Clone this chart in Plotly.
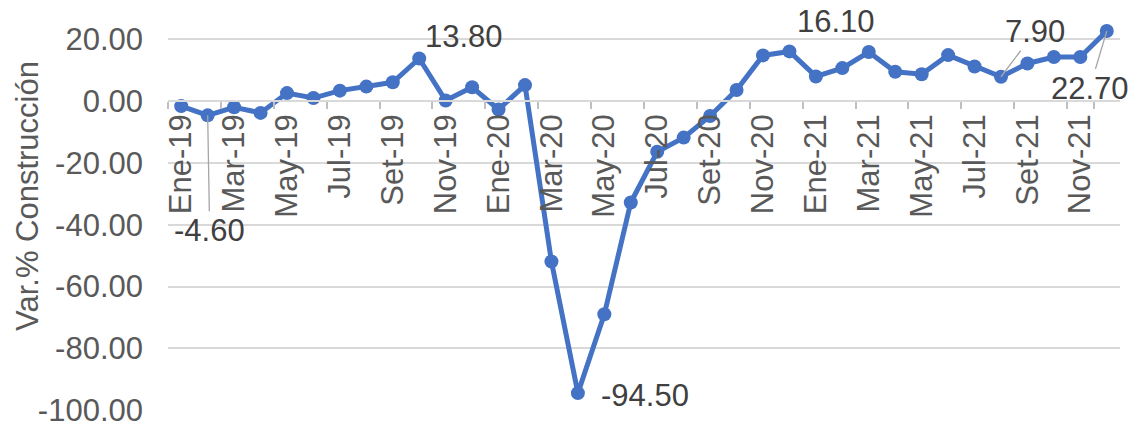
import plotly.graph_objects as go

months = ["Ene-19", "Feb-19", "Mar-19", "Abr-19", "May-19", "Jun-19", "Jul-19", "Ago-19",
          "Set-19", "Oct-19", "Nov-19", "Dic-19",
          "Ene-20", "Feb-20", "Mar-20", "Abr-20", "May-20", "Jun-20", "Jul-20", "Ago-20",
          "Set-20", "Oct-20", "Nov-20", "Dic-20",
          "Ene-21", "Feb-21", "Mar-21", "Abr-21", "May-21", "Jun-21", "Jul-21", "Ago-21",
          "Set-21", "Oct-21", "Nov-21", "Dic-21"]
var_construccion = [-1.6, -4.6, -2.0, -3.8, 2.6, 1.0, 3.4, 4.7, 6.1, 13.8, 0.2, 4.5,
                    -2.7, 5.2, -51.9, -94.5, -69.0, -32.8, -16.4, -11.8, -4.8, 3.6, 14.8, 16.1,
                    8.0, 10.7, 15.9, 9.5, 8.7, 14.9, 11.2, 7.9, 12.2, 14.3, 14.3, 22.7]
y_ticks = [-100, -80, -60, -40, -20, 0, 20]
y_tick_text = [f"{v:.2f}" for v in y_ticks]
x_tick_labels = months[::2]

# labelled points: month, pixel offset (dx, dy), leader line?
label_points = [
    ("Feb-19", 2, 115, True),
    ("Oct-19", 45, 22, False),
    ("Abr-20", 67, -2, False),
    ("Dic-20", 47, 30, False),
    ("Ago-21", 34, -45, True),
    ("Dic-21", -17, 57, True),
]

FONT = "Arial, Liberation Sans, sans-serif"
TICK_COL = "#595959"
GRID = "#d9d9d9"
ymin, ymax = -100.3, 24

fig = go.Figure()
fig.add_trace(go.Scatter(
    x=months, y=var_construccion, mode="lines+markers",
    line=dict(color="#4472C4", width=5),
    marker=dict(color="#4472C4", size=14),
    cliponaxis=False, showlegend=False,
))

for m, dx, dy, leader in label_points:
    v = var_construccion[months.index(m)]
    txt = f"{v:.2f}"
    if leader:
        fig.add_annotation(x=m, y=v, text=txt, showarrow=True, arrowhead=0,
                           arrowwidth=1.3, arrowcolor="#a6a6a6", ax=dx, ay=dy,
                           standoff=0, font=dict(family=FONT, size=31, color="#404040"))
    else:
        fig.add_annotation(x=m, y=v, text=txt, showarrow=False, xshift=dx, yshift=dy,
                           font=dict(family=FONT, size=31, color="#404040"))

fig.add_annotation(xref="paper", yref="paper", x=(28 - 168) / 952, y=0.56,
                   xanchor="center", yanchor="middle",
                   text="Var.% Construcción", textangle=-90, showarrow=False,
                   font=dict(family=FONT, size=31, color=TICK_COL))

fig.update_layout(
    width=1134, height=427,
    margin=dict(l=168, r=14, t=27, b=16, autoexpand=False),
    paper_bgcolor="white", plot_bgcolor="white",
    font=dict(family=FONT, size=31, color=TICK_COL),
    xaxis=dict(
        type="category", categoryorder="array", categoryarray=months,
        range=[-0.5, len(months) - 0.5], automargin=False,
        anchor="free", position=(0 - ymin) / (ymax - ymin),
        tickmode="array", tickvals=x_tick_labels, ticktext=x_tick_labels,
        tickangle=-90, tickson="boundaries", ticks="outside", ticklen=7,
        tickcolor="#bfbfbf", tickwidth=1.5,
        showline=True, linecolor=GRID, linewidth=1.5,
        showgrid=False, zeroline=False,
        tickfont=dict(family=FONT, size=31, color=TICK_COL),
    ),
    yaxis=dict(
        range=[ymin, ymax], tickmode="array", tickvals=y_ticks, ticktext=y_tick_text,
        showgrid=True, gridcolor=GRID, gridwidth=1.5, automargin=False,
        zeroline=False, showline=False, ticks="",
        ticklabelstandoff=24, ticklabeloverflow="allow",
        tickfont=dict(family=FONT, size=31, color=TICK_COL),
    ),
)

fig.write_html("out.html", post_script="document.body.style.margin='0';",
               config={"displayModeBar": False})
